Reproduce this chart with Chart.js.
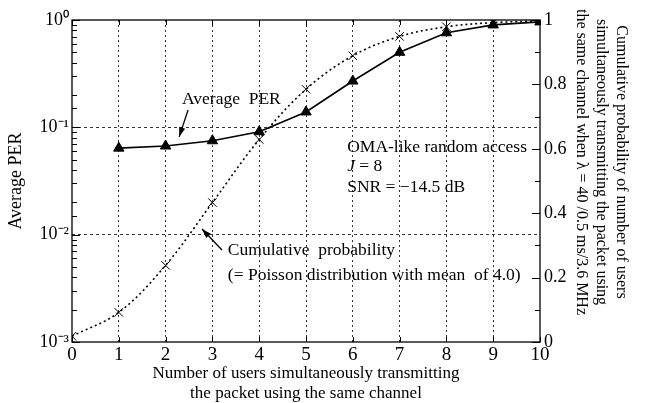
<!DOCTYPE html>
<html><head><meta charset="utf-8">
<script src="https://cdn.jsdelivr.net/npm/chart.js@4/dist/chart.umd.min.js"></script>
<style>html,body{margin:0;padding:0;background:#fff}#wrap{width:648px;height:403px}</style>
</head><body><div id="wrap"><canvas id="c" width="648" height="403"></canvas></div>
<script>
const users = [0,1,2,3,4,5,6,7,8,9,10];
const perUsers = [1,2,3,4,5,6,7,8,9,10];
const averagePER = [0.064,0.067,0.075,0.091,0.139,0.27,0.50,0.76,0.90,0.96];
const cumulativeProb = [0.018,0.092,0.238,0.433,0.629,0.785,0.889,0.949,0.979,0.992,0.997];
const leftTickLabels = {'1':'10\u2070','0.1':'10\u207B\u00B9','0.01':'10\u207B\u00B2','0.001':'10\u207B\u00B3'};
const rightTickLabels = ['0','0.2','0.4','0.6','0.8','1'];
const xTitle = ['Number of users simultaneously transmitting','the packet using the same channel'];
const leftTitle = 'Average PER';
const rightTitle = ['Cumulative probability of number of users','simultaneously transmitting the packet using','the same channel when \u03BB = 40 /0.5 ms/3.6 MHz'];

const FONT = "'Liberation Serif', 'Times New Roman', serif";

function isDecade(v){const l=Math.log10(v);return Math.abs(l-Math.round(l))<1e-9;}

const decor = {
  id:'decor',
  afterDatasetsDraw(chart){
    const ctx=chart.ctx, a=chart.chartArea;
    const x=chart.scales.x, yl=chart.scales.y, yr=chart.scales.y2;
    ctx.save();
    ctx.strokeStyle='#000';ctx.lineWidth=1;ctx.setLineDash([]);
    yl.ticks.forEach(t=>{
      const py=Math.round(yl.getPixelForValue(t.value))+0.5;
      const len=isDecade(t.value)?8:5;
      ctx.beginPath();ctx.moveTo(a.left,py);ctx.lineTo(a.left+len,py);ctx.stroke();
    });
    yr.ticks.forEach(t=>{
      const py=Math.round(yr.getPixelForValue(t.value))+0.5;
      const major=Math.round(t.value*10)%2===0;
      const len=major?8:5;
      ctx.beginPath();ctx.moveTo(a.right,py);ctx.lineTo(a.right-len,py);ctx.stroke();
    });
    x.ticks.forEach(t=>{
      const px=Math.round(x.getPixelForValue(t.value))+0.5;
      ctx.beginPath();ctx.moveTo(px,a.bottom);ctx.lineTo(px,a.bottom-5);ctx.stroke();
      ctx.beginPath();ctx.moveTo(px,a.top);ctx.lineTo(px,a.top+5);ctx.stroke();
    });
    ctx.lineWidth=1.3;
    ctx.strokeRect(a.left,a.top,a.right-a.left,a.bottom-a.top);
    // annotations
    ctx.fillStyle='#000';
    const AF='17.5px '+FONT;
    ctx.font=AF;
    ctx.textBaseline='middle';ctx.textAlign='left';
    const X=v=>x.getPixelForValue(v), YL=v=>yl.getPixelForValue(v), YR=v=>yr.getPixelForValue(v);
    ctx.fillText('Average  PER', X(2.35), YL(0.184));
    arrow(ctx, X(2.48), YL(0.145), X(2.29), YL(0.0815));
    ctx.fillText('OMA-like random access', X(5.88), YL(0.0656));
    ctx.font='italic '+AF; ctx.fillText('J', X(5.88), YL(0.0428));
    const jw=ctx.measureText('J').width;
    ctx.font=AF; ctx.fillText(' = 8', X(5.88)+jw, YL(0.0428));
    ctx.fillText('SNR = \u221214.5 dB', X(5.88), YL(0.0278));
    ctx.fillText('Cumulative  probability', X(3.33), YR(0.283));
    ctx.fillText('(= Poisson distribution with mean  of 4.0)', X(3.33), YR(0.208));
    arrow(ctx, X(3.205), YR(0.2857), X(2.778), YR(0.351));
    // right axis title
    ctx.font='16px '+FONT;
    ctx.textAlign='center';ctx.textBaseline='middle';
    rightTitle.forEach((line,i)=>{
      ctx.save();
      ctx.translate(621-20*i, 162);
      ctx.rotate(Math.PI/2);
      ctx.fillText(line,0,0);
      ctx.restore();
    });
    ctx.restore();
  }
};
function arrow(ctx,x1,y1,x2,y2){
  ctx.save();ctx.lineWidth=1.3;ctx.setLineDash([]);
  ctx.beginPath();ctx.moveTo(x1,y1);ctx.lineTo(x2,y2);ctx.stroke();
  const ang=Math.atan2(y2-y1,x2-x1), L=10, W=0.32;
  ctx.beginPath();ctx.moveTo(x2,y2);
  ctx.lineTo(x2-L*Math.cos(ang-W),y2-L*Math.sin(ang-W));
  ctx.lineTo(x2-L*Math.cos(ang+W),y2-L*Math.sin(ang+W));
  ctx.closePath();ctx.fill();ctx.restore();
}

new Chart(document.getElementById('c'),{
  type:'line',
  data:{datasets:[
    {label:'Average PER',yAxisID:'y',data:perUsers.map((u,i)=>({x:u,y:averagePER[i]})),
     borderColor:'#000',backgroundColor:'#000',borderWidth:1.6,pointStyle:'triangle',pointRadius:6,pointBorderWidth:1,tension:0},
    {label:'Cumulative probability',yAxisID:'y2',data:users.map((u,i)=>({x:u,y:cumulativeProb[i]})),
     borderColor:'#000',backgroundColor:'#000',borderWidth:1.6,borderDash:[2,3],pointStyle:'cross',pointRotation:45,pointRadius:6,pointBorderWidth:1,tension:0.35}
  ]},
  options:{
    responsive:false,animation:false,devicePixelRatio:1,
    layout:{padding:{top:20,left:0,right:0,bottom:0}},
    plugins:{legend:{display:false},tooltip:{enabled:false}},
    scales:{
      x:{type:'linear',min:0,max:10,
        ticks:{stepSize:1,color:'#000',font:{family:FONT,size:19},padding:2,maxRotation:0},
        grid:{drawTicks:false,tickLength:0,color:c=>(c.tick&&c.tick.value>0&&c.tick.value<10)?'#000':'rgba(0,0,0,0)',lineWidth:0.8},
        border:{display:false,dash:[2,3]},
        title:{display:true,text:xTitle,color:'#000',font:{family:FONT,size:17,lineHeight:1.15},padding:{top:0,bottom:0}},
        afterFit:s=>{s.height=61;}
      },
      y:{type:'logarithmic',position:'left',min:0.001,max:1,
        ticks:{autoSkip:false,color:'#000',font:{family:FONT,size:18},padding:3,
          callback:v=>leftTickLabels[String(+v.toPrecision(3))]||''},
        grid:{drawTicks:false,tickLength:0,color:c=>(c.tick&&isDecade(c.tick.value)&&c.tick.value<0.9&&c.tick.value>0.0011)?'#000':'rgba(0,0,0,0)',lineWidth:0.8},
        border:{display:false,dash:[3,3]},
        title:{display:true,text:leftTitle,color:'#000',font:{family:FONT,size:18},padding:{top:5,bottom:0}},
        afterFit:s=>{s.width=72;}
      },
      y2:{type:'linear',position:'right',min:0,max:1,
        ticks:{stepSize:0.1,autoSkip:false,color:'#000',font:{family:FONT,size:18},padding:4,
          callback:v=>{const k=Math.round(v*10);return k%2===0?rightTickLabels[k/2]:'';}},
        grid:{display:false,drawTicks:false},
        border:{display:false},
        title:{display:false},
        afterFit:s=>{s.width=108;}
      }
    }
  },
  plugins:[decor]
});
</script></body></html>
